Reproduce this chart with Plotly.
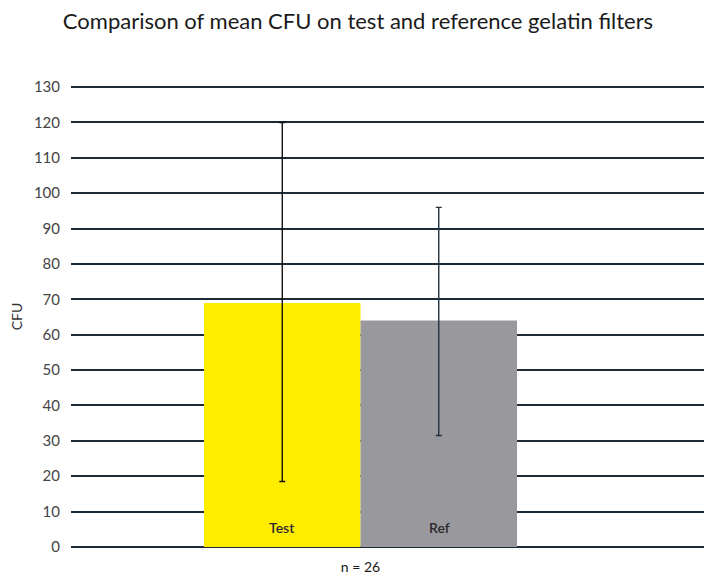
import plotly.graph_objects as go

group_label = ["n = 26"]
series_names = ["Test", "Ref"]
mean_cfu = [69, 64]
error_plus = [51, 32]
error_minus = [50.5, 32.5]
bar_colors = ["#FFED00", "#99989D"]
err_colors = ["#111111", "#22323d"]
y_ticks = list(range(0, 131, 10))

fig = go.Figure()

for name, val, ep, em, col, ecol in zip(series_names, mean_cfu, error_plus, error_minus, bar_colors, err_colors):
    fig.add_trace(
        go.Bar(
            x=group_label,
            y=[val],
            name=name,
            marker=dict(color=col, line=dict(width=0)),
            error_y=dict(
                type="data",
                symmetric=False,
                array=[ep],
                arrayminus=[em],
                color=ecol,
                thickness=1.4,
                width=3,
            ),
        )
    )

# bar names sit just above the base of each bar
for i, name in enumerate(series_names):
    fig.add_annotation(
        x=group_label[0],
        y=0,
        xshift=(i - 0.5) * 157,
        yshift=20,
        yanchor="middle",
        text=name,
        showarrow=False,
        font=dict(size=14, color="#2b2b2b", family="Lato", weight=600),
    )

# page body adds 8px margin, so the figure is sized to fit the window
fig.update_layout(
    width=704,
    height=571,
    barmode="group",
    bargap=0.5,
    bargroupgap=0,
    showlegend=False,
    plot_bgcolor="white",
    paper_bgcolor="white",
    font=dict(family="Lato", color="#333333", size=14),
    margin=dict(l=63, r=0, t=78, b=32, autoexpand=False),
    title=dict(
        text="Comparison of mean CFU on test and reference gelatin filters",
        x=350 / 704,
        xanchor="center",
        y=1 - 13 / 571,
        yanchor="middle",
        font=dict(size=22, color="#1a1a1a", family="Lato"),
    ),
    xaxis=dict(
        range=[-0.4625, 0.5615],
        automargin=False,
        showgrid=False,
        showline=False,
        ticks="",
        ticklabelstandoff=10,
        tickfont=dict(size=14, color="#1a1a1a"),
    ),
    yaxis=dict(
        range=[0, 130.3],
        automargin=False,
        tickvals=y_ticks,
        showgrid=True,
        gridcolor="#1c2a35",
        gridwidth=1.5,
        zeroline=True,
        zerolinecolor="#1c2a35",
        zerolinewidth=1.5,
        ticks="",
        ticklabelstandoff=10,
        tickfont=dict(size=15, color="#444444"),
        title=dict(text="CFU", font=dict(size=14, color="#333333"), standoff=9),
    ),
)

fig.write_html("out.html")
